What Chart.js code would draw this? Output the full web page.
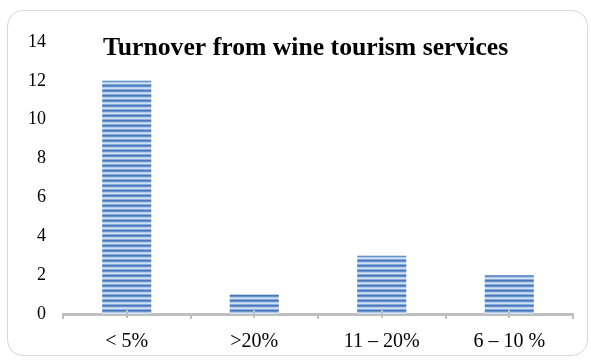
<!DOCTYPE html>
<html>
<head>
<meta charset="utf-8">
<script src="https://cdn.jsdelivr.net/npm/chart.js@4"></script>
<style>
  html, body { margin: 0; padding: 0; background: #fff; }
  #wrap { position: relative; width: 591px; height: 362px; }
  #frame {
    position: absolute; left: 7px; top: 10px; width: 581px; height: 346px;
    border: 1px solid #d9d9d9; border-radius: 16px; box-sizing: border-box;
  }
  #chart { position: absolute; left: 0; top: 0; }
</style>
</head>
<body>
<div id="wrap">
  <div id="frame"></div>
  <canvas id="chart" width="591" height="362"></canvas>
</div>
<script>
const categories = ['< 5%', '>20%', '11 – 20%', '6 – 10 %'];
const values = [12, 1, 3, 2];
const yTicks = [0, 2, 4, 6, 8, 10, 12, 14];
const titleText = 'Turnover from wine tourism services';

const FONT = "'Liberation Serif', 'Times New Roman', serif";
const AXIS_GRAY = '#bfbfbf';

/* horizontal stripe fill like the reference bars */
function stripePattern() {
  const c = document.createElement('canvas');
  c.width = 4;
  c.height = 5;
  const g = c.getContext('2d');
  const rows = ['#4677b8', '#6892cc', '#b3cbea', '#d3e0f3', '#8aacda'];
  rows.forEach((col, i) => {
    g.fillStyle = col;
    g.fillRect(0, i, 4, 1);
  });
  return g.createPattern(c, 'repeat');
}

const titlePlugin = {
  id: 'innerTitle',
  afterDraw(chart) {
    const ctx = chart.ctx;
    ctx.save();
    ctx.font = `bold 25.7px ${FONT}`;
    ctx.fillStyle = '#000';
    ctx.textBaseline = 'middle';
    ctx.textAlign = 'left';
    ctx.fillText(titleText, 103, 48);
    ctx.restore();
  },
};

/* small marks at category centres, crossing the axis line */
const centerTicks = {
  id: 'centerTicks',
  afterDraw(chart) {
    const x = chart.scales.x;
    const ctx = chart.ctx;
    ctx.save();
    ctx.strokeStyle = AXIS_GRAY;
    ctx.lineWidth = 2;
    categories.forEach((_, i) => {
      const px = Math.round(x.getPixelForValue(i));
      ctx.beginPath();
      ctx.moveTo(px, x.top - 4);
      ctx.lineTo(px, x.top + 4);
      ctx.stroke();
    });
    ctx.restore();
  },
};

const ctx = document.getElementById('chart').getContext('2d');

new Chart(ctx, {
  type: 'bar',
  data: {
    labels: categories,
    datasets: [{
      data: values,
      backgroundColor: stripePattern(),
      borderWidth: 0,
      barPercentage: 0.385,
      categoryPercentage: 1,
    }],
  },
  options: {
    responsive: false,
    animation: false,
    events: [],
    layout: { padding: { top: 42, right: 18, left: 0, bottom: 0 } },
    plugins: { legend: { display: false }, tooltip: { enabled: false }, title: { display: false } },
    scales: {
      x: {
        afterFit(scale) { scale.height = 48; },
        grid: {
          offset: true,
          drawOnChartArea: false,
          drawTicks: true,
          tickLength: 5,
          color: AXIS_GRAY,
          lineWidth: 2,
        },
        border: { display: true, color: AXIS_GRAY, width: 3 },
        ticks: {
          color: '#000',
          padding: 11,
          font: { family: FONT, size: 20 },
          maxRotation: 0,
          autoSkip: false,
        },
      },
      y: {
        min: 0,
        max: 14,
        afterFit(scale) { scale.width = 63; },
        afterBuildTicks(scale) { scale.ticks = yTicks.map((v) => ({ value: v })); },
        grid: { display: false, drawTicks: false },
        border: { display: false },
        ticks: {
          color: '#000',
          padding: 17,
          font: { family: FONT, size: 18 },
        },
      },
    },
  },
  plugins: [titlePlugin, centerTicks],
});
</script>
</body>
</html>
